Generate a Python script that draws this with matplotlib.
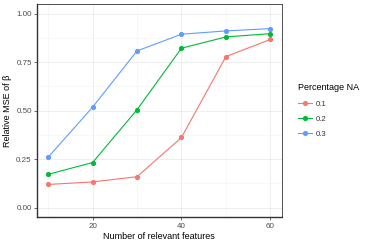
import numpy as np
import matplotlib
matplotlib.use('Agg')
import matplotlib.pyplot as plt

plt.rcParams['font.family'] = ['Liberation Sans', 'DejaVu Sans']

features = [10, 20, 30, 40, 50, 60]
na_levels = ['0.1', '0.2', '0.3']
mse_01 = [0.120, 0.133, 0.160, 0.362, 0.779, 0.867]
mse_02 = [0.172, 0.233, 0.505, 0.822, 0.880, 0.897]
mse_03 = [0.260, 0.518, 0.808, 0.894, 0.911, 0.923]
colors = ['#F8766D', '#00BA38', '#619CFF']

fig = plt.figure(figsize=(3.68, 2.46), dpi=100)
ax = fig.add_axes([0.1005, 0.116, 0.6645, 0.868])

for lab, vals, c in zip(na_levels, [mse_01, mse_02, mse_03], colors):
    ax.plot(features, vals, color=c, lw=0.8, marker='o', ms=2.7, label=lab)

ax.set_xlim(7.5, 62.5)
ax.set_ylim(-0.05, 1.05)
ax.set_xticks([20, 40, 60])
ax.set_xticks([10, 30, 50], minor=True)
ax.set_yticks([0, 0.25, 0.5, 0.75, 1.0])
ax.set_yticks([0.125, 0.375, 0.625, 0.875], minor=True)
ax.set_yticklabels(['0.00', '0.25', '0.50', '0.75', '1.00'])
ax.grid(which='major', color='#EBEBEB', lw=0.6)
ax.grid(which='minor', color='#F4F4F4', lw=0.4)
ax.set_axisbelow(True)
ax.tick_params(which='minor', length=0)
ax.tick_params(which='major', length=2.2, width=0.5, color='#333333',
               labelsize=5.8, labelcolor='#4D4D4D', pad=1.5)
for s in ax.spines.values():
    s.set_color('#333333')
    s.set_linewidth(0.6)
ax.spines['left'].set_linewidth(1.0)
ax.spines['bottom'].set_linewidth(1.0)

ax.set_xlabel('Number of relevant features', fontsize=6.5, labelpad=2)
ax.set_ylabel('Relative MSE of β', fontsize=6.5, labelpad=3)

leg = ax.legend(title='Percentage NA', loc='center left', bbox_to_anchor=(1.04, 0.5),
                frameon=False, fontsize=5.6, title_fontsize=6.5,
                handlelength=1.7, handletextpad=0.6, labelspacing=1.0)
leg._legend_box.align = 'left'
for t in leg.get_texts():
    t.set_color('#333333')

fig.savefig('out.png', dpi=100)
